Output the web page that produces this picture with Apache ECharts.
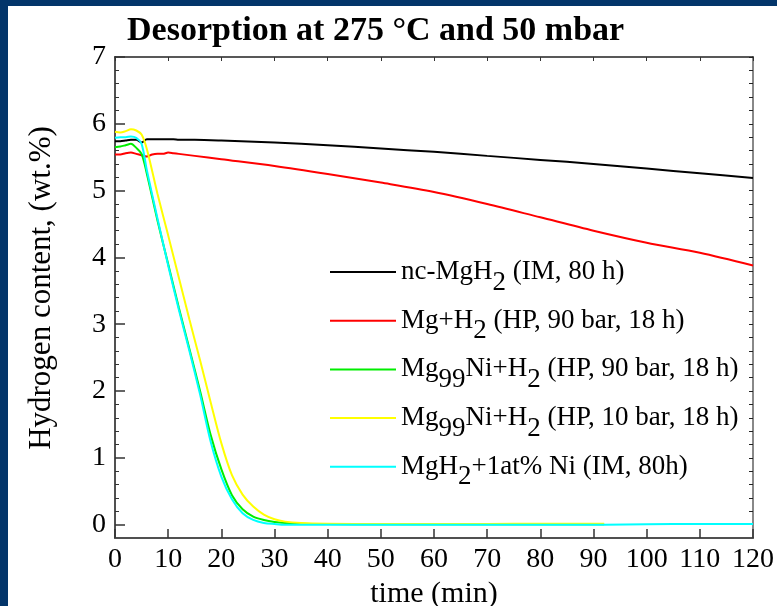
<!DOCTYPE html>
<html>
<head>
<meta charset="utf-8">
<script src="https://cdn.jsdelivr.net/npm/echarts@6/dist/echarts.min.js"></script>
<style>
html,body{margin:0;padding:0;background:#fff;}
#chart{width:777px;height:606px;}
</style>
</head>
<body>
<div id="chart"></div>
<script>
// ---- data ----
const xTicks = [0,10,20,30,40,50,60,70,80,90,100,110,120];
const yTicks = [0,1,2,3,4,5,6,7];

const slowTimes = [0,1,2,3,4,5,6,7,8,9,10,11,12,15,20,30,40,50,60,70,80,90,100,110,120];
const ncMgH2 = [5.74,5.74,5.75,5.76,5.76,5.72,5.77,5.77,5.77,5.77,5.77,5.77,5.76,5.76,5.75,5.72,5.68,5.63,5.58,5.52,5.46,5.40,5.33,5.26,5.19];
const mgH2HP90 = [5.54,5.54,5.56,5.57,5.55,5.53,5.51,5.54,5.55,5.55,5.57,5.56,5.55,5.52,5.47,5.37,5.25,5.12,4.98,4.80,4.60,4.40,4.22,4.07,3.88];

const fastTimes = [0,1,2,3,4,5,6,8,10,12,14,16,18,20,22,24,26,28,30,32,35,40,50,60,70,80,90,92,100,110,120];
const mg99NiHP90 = [5.65,5.66,5.68,5.70,5.64,5.55,5.25,4.55,3.90,3.25,2.63,2.00,1.34,0.83,0.44,0.23,0.12,0.07,0.04,0.025,0.015,0.01,0.005,0.005,0.005,0.005,0.005,0.005,null,null,null];
const mg99NiHP10 = [5.88,5.87,5.89,5.92,5.90,5.84,5.62,4.95,4.33,3.70,3.07,2.46,1.83,1.22,0.74,0.45,0.27,0.15,0.08,0.045,0.025,0.015,0.01,0.01,0.01,0.015,0.015,0.015,null,null,null];
const mgH2NiIM = [5.79,5.80,5.80,5.81,5.79,5.70,5.30,4.58,3.88,3.22,2.60,1.95,1.24,0.72,0.38,0.17,0.07,0.025,0.01,0.0,0.0,0.0,0.0,0.0,0.0,0.0,0.0,0.0,0.005,0.01,0.01];

const seriesNames = [
  'nc-MgH2 (IM, 80 h)',
  'Mg+H2 (HP, 90 bar, 18 h)',
  'Mg99Ni+H2 (HP, 90 bar, 18 h)',
  'Mg99Ni+H2 (HP, 10 bar, 18 h)',
  'MgH2+1at% Ni (IM, 80h)'
];
const legendRich = {
  'nc-MgH2 (IM, 80 h)': '{n|nc-MgH}{s|2}{n| (IM, 80 h)}',
  'Mg+H2 (HP, 90 bar, 18 h)': '{n|Mg+H}{s|2}{n| (HP, 90 bar, 18 h)}',
  'Mg99Ni+H2 (HP, 90 bar, 18 h)': '{n|Mg}{s|99}{n|Ni+H}{s|2}{n| (HP, 90 bar, 18 h)}',
  'Mg99Ni+H2 (HP, 10 bar, 18 h)': '{n|Mg}{s|99}{n|Ni+H}{s|2}{n| (HP, 10 bar, 18 h)}',
  'MgH2+1at% Ni (IM, 80h)': '{n|MgH}{s|2}{n|+1at% Ni (IM, 80h)}'
};
const colors = ['#000000','#ff0000','#00ee00','#ffff00','#00ffff'];

function pairs(ts, vs){
  const out = [];
  for (let i=0;i<ts.length;i++){ if (vs[i] !== null) out.push([ts[i], vs[i]]); }
  return out;
}
const seriesData = [
  pairs(slowTimes, ncMgH2),
  pairs(slowTimes, mgH2HP90),
  pairs(fastTimes, mg99NiHP90),
  pairs(fastTimes, mg99NiHP10),
  pairs(fastTimes, mgH2NiIM)
];

const yMin = -0.2, yMax = 7;
const minorY = [];
for (let k=1; k<=35; k++){ const v = Math.round(k*2)/10; if (Math.abs(v-Math.round(v))>1e-9) minorY.push(v); }
const allY = [];
for (let k=0; k<=35; k++){ allY.push(Math.round(k*2)/10); }

const serif = 'Liberation Serif';
const chart = echarts.init(document.getElementById('chart'), null, {renderer:'canvas'});
chart.setOption({
  backgroundColor: '#ffffff',
  animation: false,
  graphic: [
    {type:'rect', left:0, top:0, shape:{width:8, height:606}, style:{fill:'#03356a'}, z:10},
    {type:'rect', left:0, top:0, shape:{width:777, height:6}, style:{fill:'#03356a'}, z:10},
    {type:'text', x:42, y:288, rotation:Math.PI/2,
     style:{text:'Hydrogen content, (wt.%)', fontFamily:serif, fontSize:31, fill:'#000', align:'center', verticalAlign:'middle'}}
  ],
  title: {
    text: 'Desorption at 275 °C and 50 mbar',
    left: 122, top: 9,
    textStyle: {fontFamily: serif, fontSize: 34, fontWeight: 'bold', color: '#000'}
  },
  grid: {left:115, right:24, top:57, bottom:68, containLabel:false, outerBoundsMode:'none'},
  legend: {
    orient: 'vertical',
    left: 330, top: 257,
    icon: 'rect',
    itemWidth: 66, itemHeight: 2, itemGap: 9.7,
    padding: 0,
    selectedMode: false,
    data: seriesNames,
    formatter: function(name){ return legendRich[name]; },
    textStyle: {
      color:'#000',
      rich: {
        n: {fontFamily: serif, fontSize: 27, color:'#000', lineHeight: 30, verticalAlign:'middle'},
        s: {fontFamily: serif, fontSize: 27, color:'#000', lineHeight: 30, verticalAlign:'top', padding:[12,0,0,0]}
      }
    }
  },
  xAxis: [
    {
      type:'value', min:0, max:120, interval:10, position:'bottom',
      name:'time (min)', nameLocation:'middle', nameGap:38,
      nameTextStyle:{fontFamily:serif, fontSize:30, color:'#000'},
      axisLine:{show:true, onZero:false, lineStyle:{color:'#505050', width:2}},
      axisTick:{show:true, inside:true, length:9, lineStyle:{color:'#333', width:1.5}},
      axisLabel:{fontFamily:serif, fontSize:28, color:'#000', margin:8, customValues: xTicks},
      splitLine:{show:false}
    },
    {
      type:'value', min:0, max:120, interval:10, position:'top',
      axisLine:{show:true, onZero:false, lineStyle:{color:'#222', width:1.5}},
      axisTick:{show:true, inside:true, length:4, lineStyle:{color:'#333'}},
      axisLabel:{show:false},
      splitLine:{show:false}
    }
  ],
  yAxis: [
    {
      type:'value', min:yMin, max:yMax, position:'left',
      axisLine:{show:true, onZero:false, lineStyle:{color:'#505050', width:2}},
      axisTick:{show:true, inside:true, length:10, customValues: yTicks, lineStyle:{color:'#333', width:1.5}},
      axisLabel:{fontFamily:serif, fontSize:28, color:'#000', margin:9, customValues: yTicks},
      splitLine:{show:false}
    },
    {
      type:'value', min:yMin, max:yMax, position:'left',
      axisLine:{show:false},
      axisTick:{show:true, inside:true, length:4, customValues: minorY, lineStyle:{color:'#333'}},
      axisLabel:{show:false},
      splitLine:{show:false}
    },
    {
      type:'value', min:yMin, max:yMax, position:'right',
      axisLine:{show:true, onZero:false, lineStyle:{color:'#888', width:2}},
      axisTick:{show:true, inside:true, length:4, customValues: allY, lineStyle:{color:'#222'}},
      axisLabel:{show:false},
      splitLine:{show:false}
    }
  ],
  series: seriesNames.map(function(name, i){
    return {
      name: name, type:'line', xAxisIndex:0, yAxisIndex:0,
      data: seriesData[i], symbol:'none', showSymbol:false,
      smooth: 0.3,
      color: colors[i],
      lineStyle: {color: colors[i], width: 2},
      z: 2 + i
    };
  })
});
</script>
</body>
</html>
